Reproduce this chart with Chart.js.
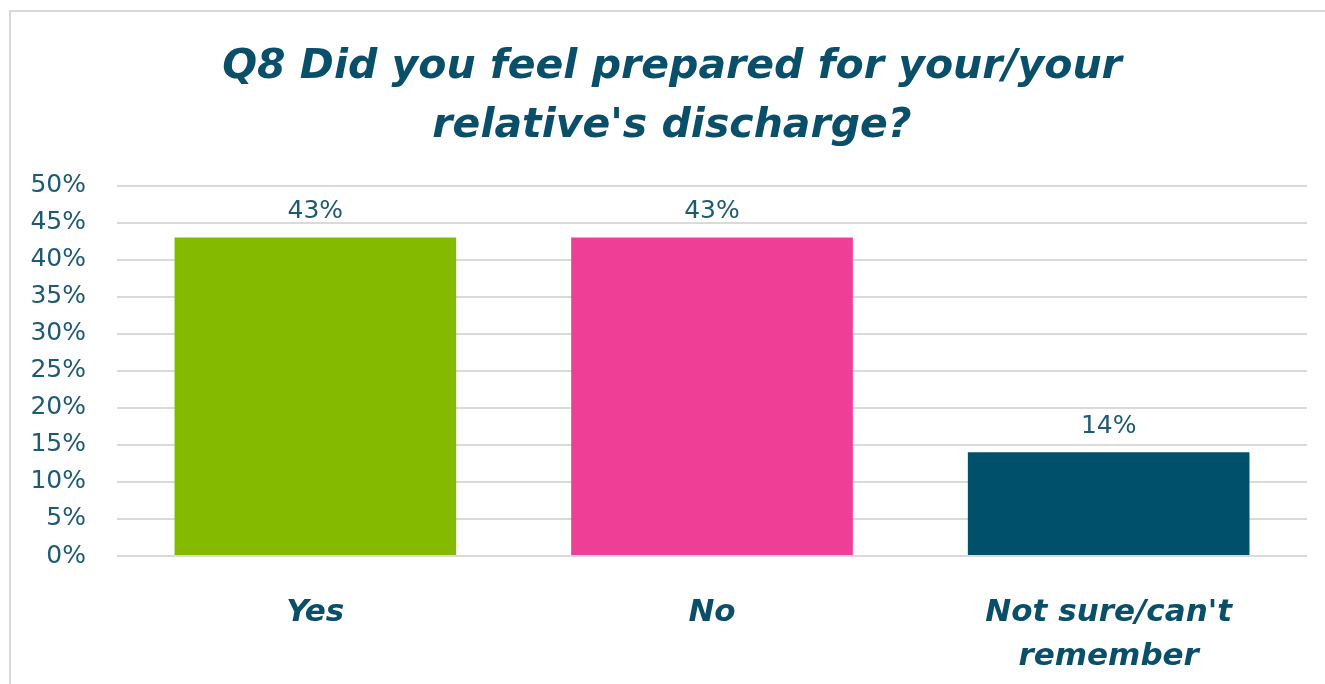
<!DOCTYPE html>
<html>
<head>
<meta charset="utf-8">
<script src="https://cdn.jsdelivr.net/npm/chart.js@4.4.1/dist/chart.umd.min.js"></script>
<style>
  html, body { margin: 0; padding: 0; background: #ffffff; overflow: hidden; }
  #wrap { position: relative; width: 1325px; height: 684px; overflow: hidden; }
  #frame { position: absolute; left: 9px; top: 10px; width: 1400px; height: 800px; border: 2px solid #d9d9d9; box-sizing: border-box; }
  canvas { position: absolute; left: 0; top: 0; }
</style>
</head>
<body>
<div id="wrap">
  <div id="frame"></div>
  <canvas id="c" width="1325" height="684"></canvas>
</div>
<script>
const titleLines = ["Q8 Did you feel prepared for your/your", "relative's discharge?"];
const categories = [["Yes"], ["No"], ["Not sure/can't", "remember"]];
const values = [43, 43, 14];
const barColors = ["#84bb00", "#ef3e96", "#00506b"];
const yTicks = [0, 5, 10, 15, 20, 25, 30, 35, 40, 45, 50];

const teal = "#0a4f6a";
const labelTeal = "#1d5a74";

const dataLabels = {
  id: 'dataLabels',
  afterDatasetsDraw(chart) {
    const ctx = chart.ctx;
    const meta = chart.getDatasetMeta(0);
    ctx.save();
    ctx.font = "25px 'DejaVu Sans'";
    ctx.fillStyle = labelTeal;
    ctx.textAlign = 'center';
    ctx.textBaseline = 'middle';
    meta.data.forEach((bar, i) => {
      ctx.fillText(values[i] + '%', bar.x, bar.y - 26);
    });
    ctx.restore();
  }
};

const shiftTitle = {
  id: 'shiftTitle',
  afterLayout(chart) {
    if (chart.titleBlock) { chart.titleBlock.left = 37; }
  }
};

new Chart(document.getElementById('c'), {
  type: 'bar',
  data: {
    labels: categories,
    datasets: [{
      data: values,
      backgroundColor: barColors,
      borderWidth: 0,
      categoryPercentage: 1.0,
      barPercentage: 0.71
    }]
  },
  options: {
    responsive: false,
    animation: false,
    devicePixelRatio: 1,
    layout: { padding: { left: 0, right: 18, top: 0, bottom: 0 } },
    plugins: {
      legend: { display: false },
      tooltip: { enabled: false },
      title: {
        display: true,
        text: titleLines,
        color: teal,
        font: { family: "'DejaVu Sans'", size: 41, weight: 'bold', style: 'italic', lineHeight: 1.46 },
        padding: { top: 37, bottom: 29 }
      }
    },
    scales: {
      x: {
        grid: { display: false },
        border: { display: false },
        ticks: {
          color: teal,
          padding: 26,
          font: { family: "'DejaVu Sans'", size: 31, weight: 'bold', style: 'italic', lineHeight: 1.45 },
          maxRotation: 0,
          autoSkip: false
        },
        afterFit(scale) { scale.height = 128; }
      },
      y: {
        min: 0,
        max: 50,
        afterBuildTicks(scale) { scale.ticks = yTicks.map(v => ({ value: v })); },
        grid: { color: '#dadada', lineWidth: 2, drawTicks: false },
        border: { display: false },
        ticks: {
          color: labelTeal,
          padding: 31,
          font: { family: "'DejaVu Sans'", size: 25 },
          callback: v => v + '%'
        },
        afterFit(scale) { scale.width = 117; }
      }
    }
  },
  plugins: [dataLabels, shiftTitle]
});
</script>
</body>
</html>
